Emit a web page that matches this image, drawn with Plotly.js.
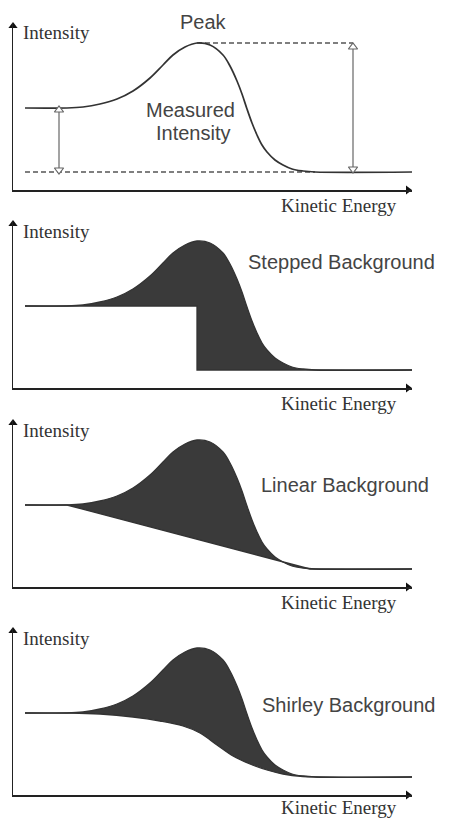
<!DOCTYPE html>
<html>
<head>
<meta charset="utf-8">
<script src="https://cdn.plot.ly/plotly-3.0.1.min.js"></script>
<style>html,body{margin:0;padding:0;background:#fff;}#chart{width:473px;height:819px;}</style>
</head>
<body>
<div id="chart"></div>
<script>
// ---- data (arbitrary units: energy along x, intensity along y) ----
const energy   = [12, 54, 70, 87, 104, 120, 137, 150, 160, 172, 184, 197, 210, 217, 224, 229, 234, 239, 244, 249, 254, 262, 270, 279, 290, 302, 399];
const measured = [82, 82, 83, 86, 91, 99, 112, 125, 135, 143, 147, 145, 135, 124, 109, 96, 81, 67, 55, 45, 38, 30, 25, 21, 19, 18, 18];

const stepE = [12, 184, 184, 399];
const stepI = [82, 82, 18, 18];

const linE = [12, 54, 297, 399];
const linI = [82, 82, 18, 18];

const shirE = [12, 57, 87, 120, 147, 170, 187, 204, 220, 237, 254, 270, 290, 304, 399];
const shirI = [82, 82, 81, 78, 74, 69, 62, 50, 39, 31, 25, 21, 18.5, 18, 18];

const peakLevel = 147, leftLevel = 82, rightLevel = 18;
const leftArrowE = 46, rightArrowE = 340;

const panelTitles = ["", "Stepped Background", "Linear Background", "Shirley Background"];
const yLabel = "Intensity";
const xLabel = "Kinetic Energy";

// ---- layout geometry (pixels) ----
const W = 473, H = 819;
const plotLeft = 13, plotRight = 412;
const panelTops = [23, 221, 420, 628];
const panelBottoms = [190, 388, 587, 795];
const xLabelOffsets = [15, 15, 15, 12];
const xMax = 399, yMax = 167;

const curveColor = '#333333';
const fillColor = '#3a3a3a';
const guideColor = '#666666';
const serif = 'Liberation Serif, Times New Roman, serif';
const sans = 'Liberation Sans, Arial, sans-serif';

const px = v => v / W;
const py = v => 1 - v / H;

const traces = [];
const layout = {
  width: W, height: H,
  margin: {l: 0, r: 0, t: 0, b: 0},
  paper_bgcolor: '#ffffff', plot_bgcolor: 'rgba(0,0,0,0)',
  showlegend: false,
  annotations: []
};

function label(text, xPix, yPix, anchor, font) {
  layout.annotations.push({text: text, x: px(xPix), y: py(yPix), xref: 'paper', yref: 'paper',
    showarrow: false, xanchor: anchor, yanchor: 'middle', font: font});
}
const sansFont = {family: sans, size: 20, color: '#444'};
const serifFont = {family: serif, size: 19, color: '#333'};

const bgs = [null, [stepE, stepI], [linE, linI], [shirE, shirI]];
const titlePix = [null, [341, 262], [345, 485], [348, 705]];

for (let p = 0; p < 4; p++) {
  const n = p === 0 ? '' : String(p + 1);
  const xa = 'x' + n, ya = 'y' + n;
  layout['xaxis' + n] = {
    domain: [plotLeft / W, plotRight / W], range: [0, xMax],
    anchor: ya, showline: true, linecolor: '#222', linewidth: 1.5,
    showgrid: false, zeroline: false, showticklabels: false, ticks: '', fixedrange: true
  };
  layout['yaxis' + n] = {
    domain: [1 - panelBottoms[p] / H, 1 - panelTops[p] / H], range: [0, yMax],
    anchor: xa, showline: true, linecolor: '#222', linewidth: 1.5,
    showgrid: false, zeroline: false, showticklabels: false, ticks: '', fixedrange: true
  };

  // axis arrowheads
  traces.push({x: [0], y: [yMax - 3], xaxis: xa, yaxis: ya, mode: 'markers', cliponaxis: false, hoverinfo: 'skip',
    marker: {symbol: 'triangle-up', size: 8, color: '#111'}});
  traces.push({x: [xMax - 4], y: [0], xaxis: xa, yaxis: ya, mode: 'markers', cliponaxis: false, hoverinfo: 'skip',
    marker: {symbol: 'triangle-right', size: 8, color: '#111'}});

  if (p === 0) {
    traces.push({x: [energy[10], rightArrowE], y: [peakLevel, peakLevel], xaxis: xa, yaxis: ya, mode: 'lines', cliponaxis: false,
      line: {color: '#555', width: 1.5, dash: '5px,3px'}, hoverinfo: 'skip'});
    traces.push({x: [energy[0], 302], y: [rightLevel, rightLevel], xaxis: xa, yaxis: ya, mode: 'lines', cliponaxis: false,
      line: {color: '#555', width: 1.5, dash: '5px,3px'}, hoverinfo: 'skip'});
    traces.push({x: energy, y: measured, xaxis: xa, yaxis: ya, mode: 'lines', cliponaxis: false,
      line: {color: curveColor, width: 1.7, shape: 'spline', smoothing: 1}, hoverinfo: 'skip'});
    traces.push({x: [leftArrowE, leftArrowE], y: [leftLevel - 2, rightLevel + 2], xaxis: xa, yaxis: ya, mode: 'lines+markers', cliponaxis: false,
      line: {color: guideColor, width: 1.2},
      marker: {symbol: ['triangle-up', 'triangle-down'], size: 8, color: '#fff', line: {color: guideColor, width: 1.2}}, hoverinfo: 'skip'});
    traces.push({x: [rightArrowE, rightArrowE], y: [peakLevel - 4, rightLevel + 3], xaxis: xa, yaxis: ya, mode: 'lines+markers', cliponaxis: false,
      line: {color: guideColor, width: 1.2},
      marker: {symbol: ['triangle-up', 'triangle-down'], size: 8, color: '#fff', line: {color: guideColor, width: 1.2}}, hoverinfo: 'skip'});

    label('Peak', 203, 22, 'center', sansFont);
    label('Measured', 190, 110, 'center', sansFont);
    label('Intensity', 193, 133, 'center', sansFont);
  } else {
    const bg = bgs[p];
    traces.push({x: bg[0], y: bg[1], xaxis: xa, yaxis: ya, mode: 'lines', cliponaxis: false,
      line: {color: curveColor, width: 1.3, shape: p === 3 ? 'spline' : 'linear', smoothing: 1}, hoverinfo: 'skip'});
    traces.push({x: energy, y: measured, xaxis: xa, yaxis: ya, mode: 'lines', cliponaxis: false,
      fill: 'tonexty', fillcolor: fillColor,
      line: {color: curveColor, width: 1.3, shape: 'spline', smoothing: 1}, hoverinfo: 'skip'});
    label(panelTitles[p], titlePix[p][0], titlePix[p][1], 'center', sansFont);
  }

  label(yLabel, 21, panelTops[p] + 10, 'left', serifFont);
  label(xLabel, 399, panelBottoms[p] + xLabelOffsets[p], 'right', serifFont);
}

Plotly.newPlot('chart', traces, layout, {displayModeBar: false, staticPlot: true});
</script>
</body>
</html>
